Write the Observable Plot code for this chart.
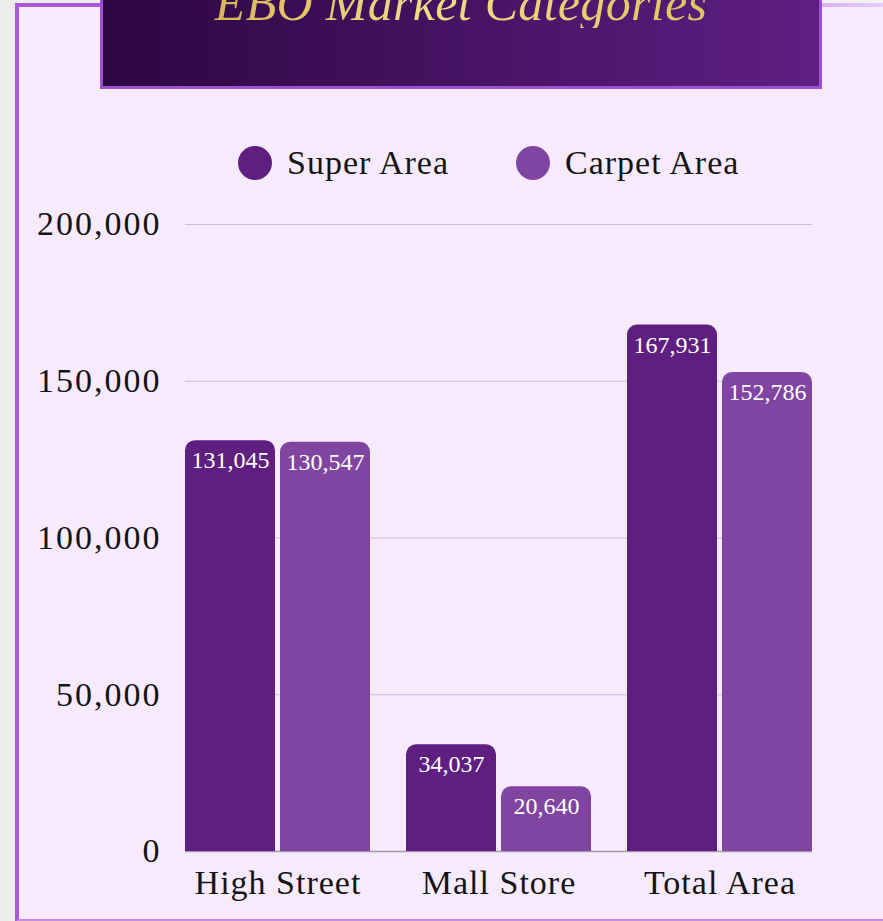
<!DOCTYPE html>
<html>
<head>
<meta charset="utf-8">
<script src="https://cdn.jsdelivr.net/npm/d3@7"></script>
<script src="https://cdn.jsdelivr.net/npm/@observablehq/plot@0.6"></script>
<style>
  html, body { margin: 0; padding: 0; }
  body {
    width: 883px; height: 921px; overflow: hidden; position: relative;
    background: linear-gradient(to right, #ececec, #f7f7f7 40%, #f2f2f2);
    font-family: "Liberation Serif", "DejaVu Serif", serif;
  }
  #card {
    position: absolute; left: 15px; top: 3px; width: 900px; height: 912px;
    background: #f8eafd;
    border-left: 4px solid #a85ad8;
    border-top: 4px solid #a85ad8;
    border-bottom: 3px solid #c98be6;
  }
  #topfade {
    position: absolute; left: 820px; top: 3px; width: 80px; height: 4px;
    background: linear-gradient(to right, #d9b2f0, #ead2fa);
  }
  #banner {
    position: absolute; left: 100px; top: -10px; width: 716px; height: 93px;
    background: linear-gradient(to right, #2c0642, #4a1466 55%, #5e1f82);
    border: 3px solid #9d50d4;
    text-align: center; overflow: hidden;
  }
  #title {
    position: absolute; left: 0; right: 0; top: -15px;
    font-family: "Liberation Serif", serif; font-style: italic;
    font-size: 50px; line-height: 50px; letter-spacing: 0.3px;
    background: linear-gradient(to right, #c9a23e, #f2dc86 45%, #d9b955);
    -webkit-background-clip: text; background-clip: text; color: transparent;
  }
  .legend-item { position: absolute; top: 146px; display: flex; align-items: center; }
  .swatch { width: 34px; height: 34px; border-radius: 50%; }
  .legend-item span { margin-left: 15px; font-size: 34px; letter-spacing: 1px; color: #141414; line-height: 34px; }
  .layer { position: absolute; left: 0; top: 190px; }
  .layer svg g[aria-label="y-axis tick label"] { letter-spacing: 2px; }
  .layer svg g[aria-label="fx-axis tick label"] { letter-spacing: 1px; }
</style>
</head>
<body>
<div id="card"></div>
<div id="topfade"></div>
<div id="banner"><div id="title">EBO Market Categories</div></div>
<div id="legend"></div>
<div id="grid" class="layer"></div>
<div id="chart" class="layer"></div>
<script>
const categories = ["High Street", "Mall Store", "Total Area"];
const seriesNames = ["Super Area", "Carpet Area"];
const superArea = [131045, 34037, 167931];
const carpetArea = [130547, 20640, 152786];
const yTicks = [0, 50000, 100000, 150000, 200000];
const seriesColors = ["#5e1f80", "#8045a0"];

const data = [];
categories.forEach((c, i) => {
  data.push({category: c, series: seriesNames[0], value: superArea[i]});
  data.push({category: c, series: seriesNames[1], value: carpetArea[i]});
});

// Legend
const legendLefts = [238, 516];
const legend = document.getElementById("legend");
seriesNames.forEach((s, i) => {
  const item = document.createElement("div");
  item.className = "legend-item";
  item.style.left = legendLefts[i] + "px";
  const sw = document.createElement("div");
  sw.className = "swatch";
  sw.style.background = seriesColors[i];
  const t = document.createElement("span");
  t.textContent = s;
  item.appendChild(sw); item.appendChild(t);
  legend.appendChild(item);
});

const fmt = d3.format(",");
const font = "Liberation Serif";
const dims = {width: 883, height: 720, marginTop: 34, marginBottom: 59, marginLeft: 185, marginRight: 71};

// Background layer: continuous gridlines across the whole frame
const grid = Plot.plot({
  ...dims,
  style: {background: "transparent", fontFamily: font},
  y: {domain: [0, 200000], axis: null},
  marks: [
    Plot.ruleY(yTicks.filter(t => t > 0), {stroke: "#cbbfd4", strokeWidth: 1}),
    Plot.ruleY([0], {stroke: "#a398ab", strokeWidth: 1.5})
  ]
});
document.getElementById("grid").appendChild(grid);

const chart = Plot.plot({
  ...dims,
  style: {background: "transparent", fontFamily: font, color: "#141414", overflow: "visible"},
  fx: {domain: categories, paddingInner: 0.163, paddingOuter: 0, label: null},
  x: {domain: seriesNames, paddingInner: 5 / 95, paddingOuter: 0, axis: null},
  y: {domain: [0, 200000], label: null},
  color: {domain: seriesNames, range: seriesColors},
  marks: [
    Plot.barY(data, {fx: "category", x: "series", y: "value", fill: "series", rx: 10}),
    Plot.barY(data, {fx: "category", x: "series", y: d => d.value / 2, fill: "series"}),
    Plot.text(data, {fx: "category", x: "series", y: "value", text: d => fmt(d.value), dy: 20,
      fill: "white", fontSize: 24, fontFamily: font}),
    Plot.axisY(yTicks, {tickSize: 0, tickPadding: 24, fontSize: 34, label: null, tickFormat: fmt}),
    Plot.axisFx({anchor: "bottom", tickSize: 0, tickPadding: 18, fontSize: 34, label: null})
  ]
});
document.getElementById("chart").appendChild(chart);
</script>
</body>
</html>
